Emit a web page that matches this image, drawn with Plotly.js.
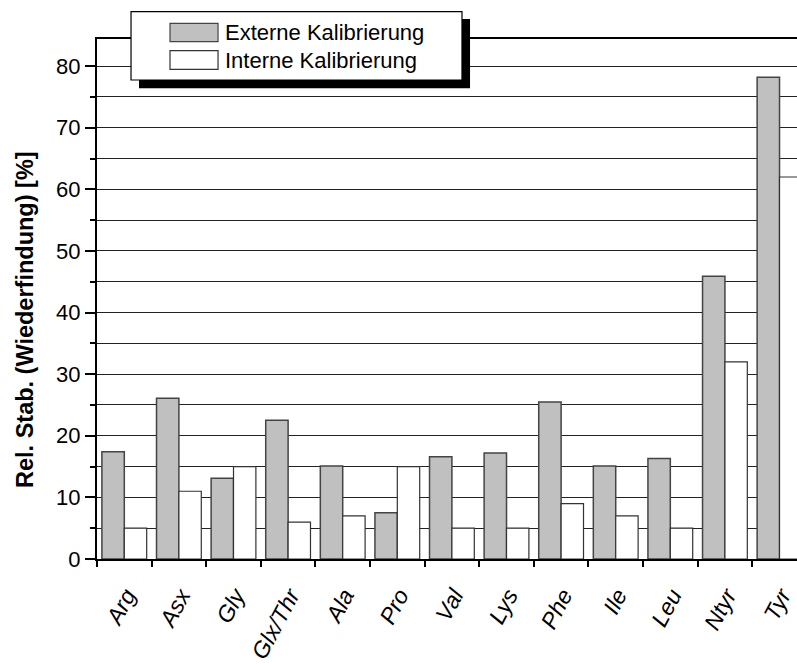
<!DOCTYPE html>
<html>
<head>
<meta charset="utf-8">
<script src="https://cdn.plot.ly/plotly-3.0.1.min.js"></script>
<style>
  html, body { margin: 0; padding: 0; background: #fff; }
  #chart { width: 797px; height: 664px; }
</style>
</head>
<body>
<div id="chart"></div>
<script>
// ---- data ----
const categories = ["Arg", "Asx", "Gly", "Glx/Thr", "Ala", "Pro", "Val", "Lys", "Phe", "Ile", "Leu", "Ntyr", "Tyr"];
const externalValues = [17.4, 26.1, 13.1, 22.5, 15.1, 7.5, 16.6, 17.2, 25.5, 15.1, 16.3, 45.9, 78.2];
const internalValues = [5, 11, 15, 6, 7, 15, 5, 5, 9, 7, 5, 32, 62];
const seriesNames = ["Externe Kalibrierung", "Interne Kalibrierung"];
const yTitle = "Rel. Stab. (Wiederfindung) [%]";

const FONT = "Liberation Sans, Arial, Helvetica, sans-serif";

const traces = [
  {
    type: "bar", name: seriesNames[0], x: categories, y: externalValues,
    marker: { color: "#c0c0c0", line: { color: "#444", width: 1.5 } },
    showlegend: false, hoverinfo: "x+y"
  },
  {
    type: "bar", name: seriesNames[1], x: categories, y: internalValues,
    marker: { color: "#ffffff", line: { color: "#333", width: 1.2 } },
    showlegend: false, hoverinfo: "x+y"
  }
];

const layout = {
  width: 797, height: 664,
  margin: { l: 97, r: 0, t: 39, b: 105, pad: 0 },
  paper_bgcolor: "#ffffff", plot_bgcolor: "#ffffff",
  barmode: "group", bargap: 0.18, bargroupgap: 0,
  font: { family: FONT, color: "#000" },
  xaxis: {
    type: "category", range: [-0.5, 12.32],
    showline: true, linecolor: "#000", linewidth: 2, mirror: true,
    ticks: "outside", tickson: "boundaries", ticklen: 6, tickwidth: 2, tickcolor: "#000",
    tickangle: -62, ticklabelstandoff: 12, ticklabelshift: 2,
    tickfont: { family: FONT, size: 23, style: "italic", color: "#000" },
    showgrid: false, zeroline: false
  },
  yaxis: {
    range: [0, 84.4], dtick: 10, tick0: 0,
    showline: true, linecolor: "#000", linewidth: 2,
    ticks: "outside", ticklen: 10, tickwidth: 2, tickcolor: "#000",
    tickfont: { family: FONT, size: 22, color: "#000" },
    showgrid: true, gridcolor: "#222", gridwidth: 1,
    minor: { dtick: 5, ticks: "outside", ticklen: 5, tickwidth: 2, tickcolor: "#000",
             showgrid: true, gridcolor: "#222", gridwidth: 1 },
    zeroline: false
  },
  shapes: [
    // legend shadow
    { type: "rect", xref: "paper", yref: "paper", x0: 0.06, x1: 0.5329, y0: 0.9052, y1: 1.0385,
      fillcolor: "#000", line: { width: 0 }, layer: "above" },
    // legend box
    { type: "rect", xref: "paper", yref: "paper", x0: 0.0486, x1: 0.5214, y0: 0.9212, y1: 1.0525,
      fillcolor: "#fff", line: { color: "#000", width: 1.2 }, layer: "above" },
    // swatches
    { type: "rect", xref: "paper", yref: "paper", x0: 0.1043, x1: 0.1729, y0: 0.9948, y1: 1.0302,
      fillcolor: "#c0c0c0", line: { color: "#444", width: 1.2 }, layer: "above" },
    { type: "rect", xref: "paper", yref: "paper", x0: 0.1043, x1: 0.1729, y0: 0.9417, y1: 0.9775,
      fillcolor: "#fff", line: { color: "#333", width: 1.2 }, layer: "above" }
  ],
  annotations: [
    { text: seriesNames[0], xref: "paper", yref: "paper", x: 0.1800, y: 1.0125,
      xanchor: "left", yanchor: "middle", showarrow: false,
      font: { family: FONT, size: 22, color: "#000" } },
    { text: seriesNames[1], xref: "paper", yref: "paper", x: 0.1800, y: 0.9596,
      xanchor: "left", yanchor: "middle", showarrow: false,
      font: { family: FONT, size: 22, color: "#000" } },
    { text: "<b>" + yTitle + "</b>", xref: "paper", yref: "paper", x: -0.1029, y: 0.4615,
      xanchor: "center", yanchor: "middle", textangle: -90, showarrow: false,
      font: { family: FONT, size: 23.5, color: "#000" } }
  ]
};

Plotly.newPlot("chart", traces, layout, { displayModeBar: false, staticPlot: true });
</script>
</body>
</html>
